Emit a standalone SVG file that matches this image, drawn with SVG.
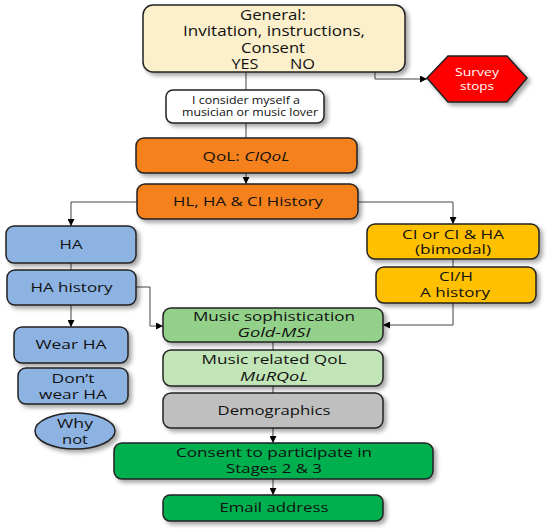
<svg xmlns="http://www.w3.org/2000/svg" width="550" height="532" viewBox="0 0 550 532">
<defs>
<filter id="sh" x="-10%" y="-10%" width="130%" height="140%">
<feDropShadow dx="3" dy="3" stdDeviation="2" flood-color="#000" flood-opacity="0.35"/>
</filter>
<marker id="ar" viewBox="0 0 10 10" refX="10" refY="5" markerWidth="7" markerHeight="7" orient="auto" markerUnits="userSpaceOnUse">
<path d="M0,0 L10,5 L0,10 z" fill="#000"/>
</marker>
</defs>
<style>
.b{stroke:#222;stroke-width:1.5;filter:url(#sh)}
.t{font-family:"Open Sans",Lato,sans-serif;fill:#111;text-anchor:middle;font-size:13px}
.g{font-size:14px}
.s{font-size:10.5px}
.c{fill:none;stroke:#444;stroke-width:1}
</style>
<rect width="550" height="532" fill="#fff"/>
<g id="connectors">
<path class="c" d="M325,66 H375 V79 H427" marker-end="url(#ar)"/>
<path class="c" d="M246,72 V90"/>
<path class="c" d="M246,123 V138"/>
<path class="c" d="M246,173 V184" marker-end="url(#ar)"/>
<path class="c" d="M137,202 H71 V226" marker-end="url(#ar)"/>
<path class="c" d="M358,202 H453 V224" marker-end="url(#ar)"/>
<path class="c" d="M71,263 V270"/>
<path class="c" d="M71,305 V327" marker-end="url(#ar)"/>
<path class="c" d="M136,287 H150 V326 H163" marker-end="url(#ar)"/>
<path class="c" d="M453,259 V267"/>
<path class="c" d="M453,303 V325 H383" marker-end="url(#ar)"/>
<path class="c" d="M273,342 V350"/>
<path class="c" d="M273,386 V393"/>
<path class="c" d="M273,428 V443" marker-end="url(#ar)"/>
<path class="c" d="M273,479 V495" marker-end="url(#ar)"/>
</g>
<g id="general">
<rect class="b" x="143" y="5" width="262" height="67" rx="10" fill="#FCEFCB"/>
<text class="t g" x="273" y="19.5" textLength="66" lengthAdjust="spacingAndGlyphs">General:</text>
<text class="t g" x="274" y="36" textLength="182" lengthAdjust="spacingAndGlyphs">Invitation, instructions,</text>
<text class="t g" x="273" y="52.5" textLength="64" lengthAdjust="spacingAndGlyphs">Consent</text>
<text class="t g" x="245" y="69" textLength="27" lengthAdjust="spacingAndGlyphs">YES</text>
<text class="t g" x="302.5" y="69" textLength="25" lengthAdjust="spacingAndGlyphs">NO</text>
</g>
<g id="survey-stops">
<polygon class="b" points="427,78 448,56 507,56 527,78 507,102 448,102" fill="#FF0000"/>
<text class="t s" x="477" y="76" textLength="44" lengthAdjust="spacingAndGlyphs" style="fill:#fff">Survey</text>
<text class="t s" x="477" y="90" textLength="34" lengthAdjust="spacingAndGlyphs" style="fill:#fff">stops</text>
</g>
<g id="musician">
<rect class="b" x="166" y="90" width="158" height="33" rx="7" fill="#fff"/>
<text class="t s" x="246" y="104" textLength="108" lengthAdjust="spacingAndGlyphs">I consider myself a</text>
<text class="t s" x="250" y="116" textLength="136" lengthAdjust="spacingAndGlyphs">musician or music lover</text>
</g>
<g id="qol">
<rect class="b" x="136" y="138" width="221" height="35" rx="8" fill="#F5811F"/>
<text class="t" x="246" y="160.5" textLength="87" lengthAdjust="spacingAndGlyphs">QoL: <tspan font-style="italic">CIQoL</tspan></text>
</g>
<g id="history">
<rect class="b" x="137" y="184" width="221" height="35" rx="8" fill="#F5811F"/>
<text class="t" x="248" y="206" textLength="150" lengthAdjust="spacingAndGlyphs">HL, HA &amp; CI History</text>
</g>
<g id="ha">
<rect class="b" x="6" y="226" width="130" height="37" rx="8" fill="#8DB3E2"/>
<text class="t" x="71" y="248.5" textLength="23" lengthAdjust="spacingAndGlyphs">HA</text>
</g>
<g id="ha-history">
<rect class="b" x="7" y="270" width="129" height="35" rx="8" fill="#8DB3E2"/>
<text class="t" x="71.5" y="291.5" textLength="82" lengthAdjust="spacingAndGlyphs">HA history</text>
</g>
<g id="wear-ha">
<rect class="b" x="14" y="327" width="114" height="36" rx="8" fill="#8DB3E2"/>
<text class="t" x="71" y="349" textLength="71" lengthAdjust="spacingAndGlyphs">Wear HA</text>
</g>
<g id="dont-wear-ha">
<rect class="b" x="18" y="368" width="110" height="36" rx="8" fill="#8DB3E2"/>
<text class="t" x="73" y="382.5" textLength="43" lengthAdjust="spacingAndGlyphs">Don’t</text>
<text class="t" x="73" y="399" textLength="68" lengthAdjust="spacingAndGlyphs">wear HA</text>
</g>
<g id="why-not">
<ellipse class="b" cx="75" cy="431" rx="40" ry="18" fill="#8DB3E2"/>
<text class="t" x="75" y="428" textLength="36" lengthAdjust="spacingAndGlyphs">Why</text>
<text class="t" x="75" y="444" textLength="26" lengthAdjust="spacingAndGlyphs">not</text>
</g>
<g id="ci">
<rect class="b" x="367" y="224" width="172" height="35" rx="8" fill="#FFC000"/>
<text class="t" x="453" y="238.5" textLength="102" lengthAdjust="spacingAndGlyphs">CI or CI &amp; HA</text>
<text class="t" x="453" y="254" textLength="76" lengthAdjust="spacingAndGlyphs">(bimodal)</text>
</g>
<g id="ci-history">
<rect class="b" x="376" y="267" width="160" height="36" rx="8" fill="#FFC000"/>
<text class="t" x="456" y="281" textLength="34" lengthAdjust="spacingAndGlyphs">CI/H</text>
<text class="t" x="455" y="297" textLength="70" lengthAdjust="spacingAndGlyphs">A history</text>
</g>
<g id="music-soph">
<rect class="b" x="163" y="308" width="220" height="34" rx="8" fill="#93D18A"/>
<text class="t" x="274" y="320.5" textLength="162" lengthAdjust="spacingAndGlyphs">Music sophistication</text>
<text class="t" x="274" y="336.5" font-style="italic" textLength="73" lengthAdjust="spacingAndGlyphs">Gold-MSI</text>
</g>
<g id="music-qol">
<rect class="b" x="163" y="350" width="220" height="36" rx="8" fill="#C1E5B7"/>
<text class="t" x="274" y="364" textLength="145" lengthAdjust="spacingAndGlyphs">Music related QoL</text>
<text class="t" x="274" y="380.5" font-style="italic" textLength="68" lengthAdjust="spacingAndGlyphs">MuRQoL</text>
</g>
<g id="demographics">
<rect class="b" x="163" y="393" width="220" height="35" rx="8" fill="#BFBFBF"/>
<text class="t" x="274" y="415" textLength="113" lengthAdjust="spacingAndGlyphs">Demographics</text>
</g>
<g id="consent">
<rect class="b" x="114" y="443" width="319" height="36" rx="8" fill="#00B050"/>
<text class="t" x="274" y="456.5" textLength="196" lengthAdjust="spacingAndGlyphs">Consent to participate in</text>
<text class="t" x="274" y="473" textLength="96" lengthAdjust="spacingAndGlyphs">Stages 2 &amp; 3</text>
</g>
<g id="email">
<rect class="b" x="163" y="495" width="220" height="26" rx="7" fill="#00B050"/>
<text class="t" x="274" y="511.5" textLength="109" lengthAdjust="spacingAndGlyphs">Email address</text>
</g>
</svg>
